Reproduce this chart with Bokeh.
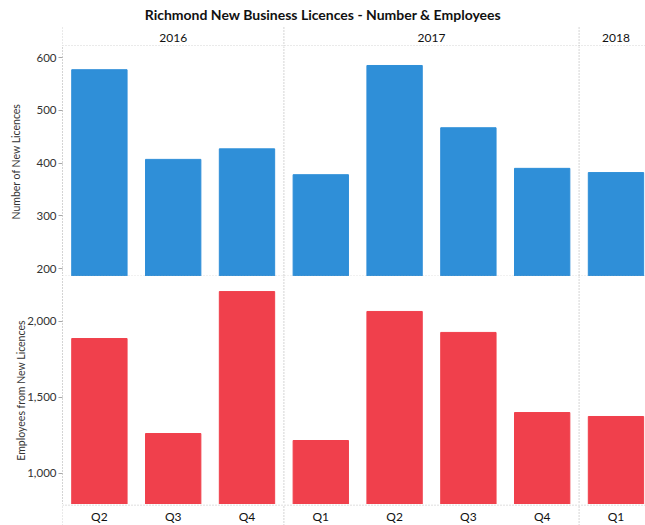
from bokeh.plotting import figure
from bokeh.layouts import column
from bokeh.models import Range1d, FixedTicker, NumeralTickFormatter, Span
from bokeh.core.properties import value
from bokeh.embed import file_html
from bokeh.resources import INLINE

# ---- data ----
title_text = "Richmond New Business Licences - Number & Employees"
years = ["2016", "2016", "2016", "2017", "2017", "2017", "2017", "2018"]
quarters = ["Q2", "Q3", "Q4", "Q1", "Q2", "Q3", "Q4", "Q1"]
licences = [577, 407, 427, 378, 585, 467, 390, 382]
employees = [1888, 1263, 2197, 1217, 2066, 1928, 1401, 1375]
lic_ticks = [200, 300, 400, 500, 600]
emp_ticks = [1000, 1500, 2000]

# ---- style ----
FONT = "Lato"
BLUE = "#2f8fd8"
RED = "#f0404c"
DOT = "#a8a8a8"
TXT = "#333333"

W = 645
LEFT = 62
XMAX = 7.9

xc = [i + 0.5 for i in range(len(quarters))]
year_names = []
for y in years:
    if y not in year_names:
        year_names.append(y)
year_centers = [sum(xc[i] for i in range(len(years)) if years[i] == y) /
                years.count(y) for y in year_names]
dividers = [0] + [i for i in range(1, len(years)) if years[i] != years[i - 1]]


def bare(fig):
    fig.xgrid.visible = False
    fig.ygrid.visible = False
    fig.outline_line_color = None
    fig.background_fill_color = "white"
    fig.border_fill_color = "white"


def strip(h):
    fig = figure(width=W, height=h, x_range=Range1d(0, XMAX), y_range=Range1d(0, h),
                 min_border_left=LEFT, min_border_right=0, min_border_top=0,
                 min_border_bottom=0, x_axis_location=None, y_axis_location=None,
                 output_backend="svg", toolbar_location=None)
    bare(fig)
    return fig


# ---- header (title + years) ----
HH = 46
head = strip(HH)
head.text(x=[XMAX / 2 - LEFT / 2 / ((W - LEFT) / XMAX)], y=[32], text=[title_text],
          text_align="center", text_baseline="middle", text_font=value(FONT),
          text_font_size="14px", text_font_style="bold", text_color="#111111")
head.text(x=year_centers, y=[9] * len(year_names), text=year_names, text_align="center",
          text_baseline="middle", text_font=value(FONT), text_font_size="12px",
          text_color="#111111")
head.segment(x0=dividers, y0=[0] * len(dividers), x1=dividers, y1=[19] * len(dividers),
             line_color=DOT, line_dash="1 2", line_width=1)
head.add_layout(Span(location=0.5, dimension="width", line_color=DOT, line_dash="1 2"))


def panel(h, y0, y1, vals, color, ticks, label, fmt=None, standoff=10):
    fig = figure(width=W, height=h, x_range=Range1d(0, XMAX), y_range=Range1d(y0, y1),
                 min_border_left=LEFT, min_border_right=0, min_border_top=0,
                 min_border_bottom=0, x_axis_location=None,
                 output_backend="svg", toolbar_location=None)
    bare(fig)
    fig.vbar(x=xc, top=vals, bottom=y0, width=0.75, fill_color=color, line_color=color)
    ax = fig.yaxis[0]
    ax.ticker = FixedTicker(ticks=ticks, minor_ticks=[])
    if fmt:
        ax.formatter = NumeralTickFormatter(format=fmt)
    ax.axis_line_color = DOT
    ax.axis_line_dash = "1 2"
    ax.major_tick_line_color = DOT
    ax.major_tick_out = 4
    ax.major_tick_in = 0
    ax.minor_tick_line_color = None
    ax.major_label_standoff = 2
    ax.major_label_text_font = FONT
    ax.major_label_text_font_size = "11.5px"
    ax.major_label_text_color = TXT
    ax.axis_label = label
    ax.axis_label_text_font = FONT
    ax.axis_label_text_font_size = "10.5px"
    ax.axis_label_text_font_style = "normal"
    ax.axis_label_text_color = TXT
    ax.axis_label_standoff = standoff
    for d in dividers[1:]:
        fig.add_layout(Span(location=d, dimension="height", line_color=DOT, line_dash="1 2"))
    return fig


top = panel(230, 185, 621, licences, BLUE, lic_ticks, "Number of New Licences", standoff=11)
top.add_layout(Span(location=185.6, dimension="width", line_color=DOT, line_dash="1 2"))
bot = panel(228, 796, 2296, employees, RED, emp_ticks, "Employees from New Licences",
            fmt="0,0", standoff=-3)

# ---- footer (quarters) ----
FH = 21
foot = strip(FH)
foot.text(x=xc, y=[9] * len(quarters), text=quarters, text_align="center",
          text_baseline="middle", text_font=value(FONT), text_font_size="12px",
          text_color="#111111")
foot.segment(x0=dividers, y0=[0] * len(dividers), x1=dividers, y1=[FH] * len(dividers),
             line_color=DOT, line_dash="1 2", line_width=1)
foot.add_layout(Span(location=FH - 0.5, dimension="width", line_color=DOT, line_dash="1 2"))

layout = column(head, top, bot, foot, spacing=0)
open("out.html", "w").write(file_html(layout, INLINE))
